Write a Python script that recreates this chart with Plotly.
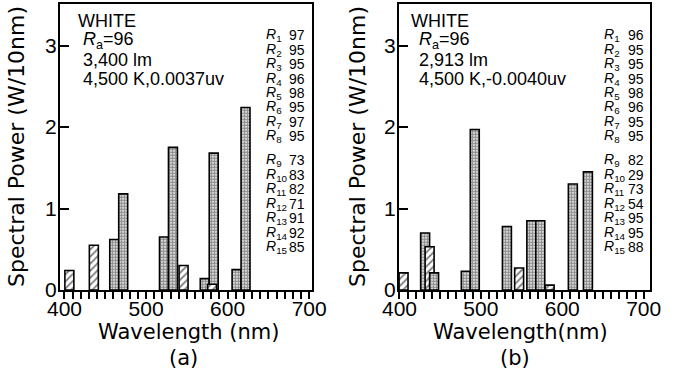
import plotly.graph_objects as go

W, H = 674, 376

# ---- panel (a) : WHITE, 3,400 lm ----
wl_a = [406, 436, 461, 472, 522, 533, 546, 572, 583, 581, 611, 622]
pw_a = [0.24, 0.55, 0.62, 1.18, 0.65, 1.75, 0.30, 0.14, 1.68, 0.07, 0.25, 2.24]
kind_a = ["hatch", "hatch", "dot", "dot", "dot", "dot", "hatch", "dot", "dot", "hatch", "dot", "dot"]

# ---- panel (b) : WHITE, 2,913 lm ----
wl_b = [405, 431.5, 437, 442.5, 481.5, 492.5, 532, 547, 562, 573, 584.5, 613, 631.5]
pw_b = [0.21, 0.70, 0.53, 0.21, 0.23, 1.97, 0.78, 0.27, 0.85, 0.85, 0.06, 1.30, 1.45]
kind_b = ["hatch", "dot", "hatch", "dot", "dot", "dot", "dot", "hatch", "dot", "dot", "hatch", "dot", "dot"]

# colour rendering indices R1..R15
r_idx_a = [97, 95, 95, 96, 98, 95, 97, 95, 73, 83, 82, 71, 91, 92, 85]
r_idx_b = [96, 95, 95, 95, 98, 96, 95, 95, 82, 29, 73, 54, 95, 95, 88]

info_a = ["WHITE", "<i>R</i><sub>a</sub>=96", "3,400 lm", "4,500 K,0.0037uv"]
info_b = ["WHITE", "<i>R</i><sub>a</sub>=96", "2,913 lm", "4,500 K,-0.0040uv"]

x_ticks = [400, 500, 600, 700]
y_ticks = [0, 1, 2, 3]

BAR_W = 11
TICK_FONT = dict(family="Liberation Sans, Arial, sans-serif", size=21, color="black")
TITLE_FONT = dict(family="DejaVu Sans, sans-serif", size=21, color="black")
INFO_FONT = dict(family="Liberation Sans, Arial, sans-serif", size=18, color="black")
R_FONT = dict(family="Liberation Sans, Arial, sans-serif", size=14, color="black")


def fx(p):
    return p / W


def fy(p):
    return 1 - p / H


def pattern(kind):
    if kind == "hatch":
        return dict(shape="/", size=5, solidity=0.35, fgcolor="black", bgcolor="white")
    return dict(shape=".", size=3, solidity=0.7, fgcolor="#1a1a1a", bgcolor="white")


fig = go.Figure()

for wls, pws, kinds, xa, ya in [(wl_a, pw_a, kind_a, "x", "y"), (wl_b, pw_b, kind_b, "x2", "y2")]:
    for w, p, k in zip(wls, pws, kinds):
        fig.add_trace(go.Bar(
            x=[w], y=[p], width=BAR_W, xaxis=xa, yaxis=ya,
            marker=dict(color="white", pattern=pattern(k), line=dict(color="black", width=1.6)),
            showlegend=False, hoverinfo="skip",
        ))

xcommon = dict(
    tickvals=x_ticks, ticks="outside", ticklen=7, tickwidth=1.5, tickcolor="black",
    minor=dict(dtick=10, ticks="outside", ticklen=7, tickwidth=1.5, tickcolor="black"),
    showline=True, linewidth=2, linecolor="black", mirror=True, automargin=False,
    showgrid=False, zeroline=False, tickfont=TICK_FONT, ticklabelstandoff=-8,
)
ycommon = dict(
    range=[0, 3.51], tickvals=y_ticks, ticks="inside", ticklen=9, tickwidth=1.5, tickcolor="black",
    showline=True, linewidth=2, linecolor="black", mirror=True, automargin=False,
    showgrid=False, zeroline=False, tickfont=TICK_FONT, ticklabelstandoff=-3,
)

y_dom = [fy(290), fy(4)]
fig.update_layout(
    width=W, height=H, margin=dict(l=0, r=0, t=0, b=0, pad=0, autoexpand=False),
    paper_bgcolor="white", plot_bgcolor="white", barmode="overlay",
    xaxis=dict(domain=[fx(60), fx(312)], range=[394.5, 703.5], anchor="y", **xcommon),
    yaxis=dict(domain=y_dom, anchor="x", **ycommon),
    xaxis2=dict(domain=[fx(399), fx(650)], range=[399.4, 707.8], anchor="y2", **xcommon),
    yaxis2=dict(domain=y_dom, anchor="x2", **ycommon),
)

ann = []


def add(text, x, y, font, xanchor="left", yanchor="middle", angle=0):
    ann.append(dict(text=text, x=fx(x), y=fy(y), xref="paper", yref="paper",
                    xanchor=xanchor, yanchor=yanchor, showarrow=False,
                    font=font, textangle=angle, borderpad=0))


# axis titles and panel labels
for cx, ytitle_x, xtitle, lab in [(188, 16, "Wavelength (nm)", "(a)"), (520, 357, "Wavelength(nm)", "(b)")]:
    add("Spectral Power (W/10nm)", ytitle_x, 147, dict(TITLE_FONT, size=22), xanchor="center", angle=-90)
    add(xtitle, cx, 332, TITLE_FONT, xanchor="center")
    add(lab, cx - 5, 358, TITLE_FONT, xanchor="center")

# lamp information blocks
for lines, x0, x1 in [(info_a, 77, 82), (info_b, 410, 418)]:
    ys = [21.5, 40.5, 60, 79]
    for i, (t, yy) in enumerate(zip(lines, ys)):
        add(t, x0 if i == 0 else x1, yy, INFO_FONT)

# special colour rendering indices
for vals, xl, xr in [(r_idx_a, 265, 306), (r_idx_b, 603, 645)]:
    for i, v in enumerate(vals):
        yy = 35 + 14.5 * i if i < 8 else 160 + 14.5 * (i - 8)
        add(f"<i>R</i><sub>{i + 1}</sub>", xl, yy, R_FONT)
        add(str(v), xr, yy, R_FONT, xanchor="right")

fig.update_layout(annotations=ann)
fig.write_html("out.html")
